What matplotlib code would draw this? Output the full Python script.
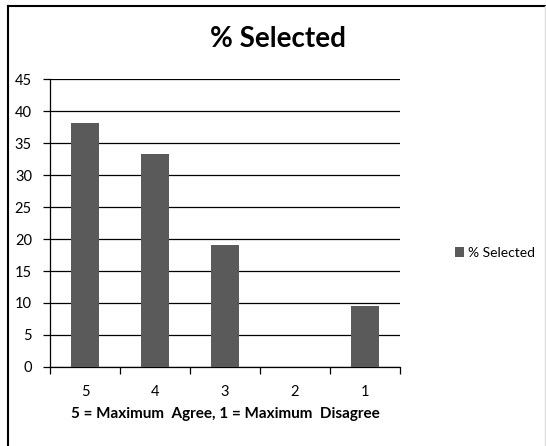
import matplotlib.pyplot as plt
from matplotlib.lines import Line2D
import numpy as np

plt.rcParams['font.family'] = ['Lato', 'DejaVu Sans']

categories = ['5', '4', '3', '2', '1']
selected = [38.1, 33.3, 19.0, 0, 9.5]
y_ticks = [0, 5, 10, 15, 20, 25, 30, 35, 40, 45]

bar_color = '#5a5a5a'

fig = plt.figure(figsize=(5.46, 4.46), dpi=100)
ax = fig.add_axes([50 / 546, 1 - 367 / 446, 350 / 546, 288 / 446])

x = np.arange(len(categories))
ax.bar(x, selected, width=0.41, color=bar_color, zorder=3, label='% Selected')

ax.set_xlim(-0.5, len(categories) - 0.5)
ax.set_ylim(0, 45)
ax.set_yticks(y_ticks)
ax.yaxis.grid(True, color='black', linewidth=0.9, zorder=0)
ax.set_axisbelow(True)

ax.set_xticks(x)
ax.set_xticklabels(categories, fontsize=10.5)
ax.set_xticks(np.arange(-0.5, len(categories)), minor=True)
ax.tick_params(axis='x', which='major', length=0, pad=13)
ax.tick_params(axis='x', which='minor', length=5, width=0.9, direction='out')
ax.tick_params(axis='y', length=5, width=0.9, labelsize=10.5, pad=8)

for side in ['top', 'right']:
    ax.spines[side].set_visible(False)
for side in ['left', 'bottom']:
    ax.spines[side].set_linewidth(0.9)

ax.set_xlabel('5 = Maximum  Agree, 1 = Maximum  Disagree', fontsize=11,
              fontweight='bold', labelpad=6)
fig.text(278 / 546, 1 - 39 / 446, '% Selected', fontsize=20, fontweight='bold',
         ha='center', va='center')

fig.legend(loc='center left', bbox_to_anchor=(442 / 546, 1 - 253 / 446),
           frameon=False, fontsize=10, handlelength=0.7, handleheight=0.7,
           handletextpad=0.3)

# chart border
fig.add_artist(Line2D([7.5 / 546, 7.5 / 546], [0, 1 - 5.5 / 446],
                      transform=fig.transFigure, color='black', linewidth=1.5))
fig.add_artist(Line2D([7.5 / 546, 1], [1 - 5.5 / 446, 1 - 5.5 / 446],
                      transform=fig.transFigure, color='black', linewidth=1.5))
fig.add_artist(Line2D([544.5 / 546, 544.5 / 546], [0, 1 - 5.5 / 446],
                      transform=fig.transFigure, color='#dddddd', linewidth=1))

fig.savefig('out.png', dpi=100)
plt.close(fig)
